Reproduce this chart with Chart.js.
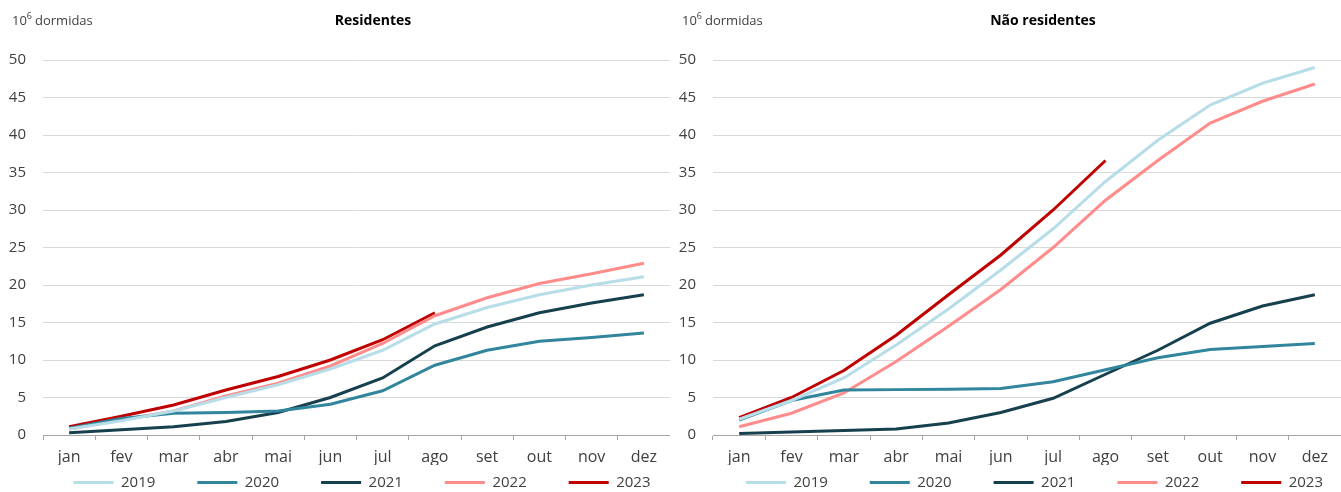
<!DOCTYPE html>
<html lang="pt">
<head>
<meta charset="UTF-8" />
<title>Dormidas acumuladas</title>
<style>
  body { margin: 0; background: #fff; }
  .wrap { display: flex; width: 1341px; height: 492px; }
  .box { position: relative; height: 492px; }
</style>
</head>
<body>
<div class="wrap">
  <div class="box" style="width:670px"><canvas id="residentes"></canvas></div>
  <div class="box" style="width:671px"><canvas id="naoResidentes"></canvas></div>
</div>
<script src="https://cdn.jsdelivr.net/npm/chart.js"></script>
<script>
const meses = ["jan", "fev", "mar", "abr", "mai", "jun", "jul", "ago", "set", "out", "nov", "dez"];
const anos = ["2019", "2020", "2021", "2022", "2023"];
const cores = ["#b7dde8", "#31859c", "#17404f", "#ff8b8b", "#c00000"];

// Residentes, milhões de dormidas acumuladas
const res2019 = [0.8, 1.9, 3.2, 5.0, 6.7, 8.8, 11.3, 14.8, 17.0, 18.7, 20.0, 21.1];
const res2020 = [0.9, 2.2, 2.9, 3.0, 3.2, 4.1, 5.9, 9.3, 11.3, 12.5, 13.0, 13.6];
const res2021 = [0.3, 0.7, 1.1, 1.8, 3.0, 5.0, 7.6, 11.9, 14.4, 16.3, 17.6, 18.7];
const res2022 = [0.8, 2.0, 3.2, 5.2, 6.9, 9.2, 12.2, 15.9, 18.3, 20.2, 21.5, 22.9];
const res2023 = [1.1, 2.5, 4.0, 6.0, 7.8, 10.0, 12.7, 16.3];

// Não residentes
const nres2019 = [2.1, 4.6, 7.6, 12.0, 16.8, 22.0, 27.5, 33.8, 39.3, 44.0, 46.9, 49.0];
const nres2020 = [2.0, 4.6, 6.0, 6.05, 6.1, 6.2, 7.1, 8.7, 10.3, 11.4, 11.8, 12.2];
const nres2021 = [0.2, 0.4, 0.6, 0.8, 1.6, 3.0, 4.9, 8.1, 11.3, 14.9, 17.2, 18.7];
const nres2022 = [1.1, 2.9, 5.6, 9.8, 14.5, 19.4, 25.0, 31.3, 36.6, 41.6, 44.5, 46.8];
const nres2023 = [2.3, 5.0, 8.6, 13.3, 18.7, 24.0, 30.0, 36.6];

const fonte = "'Open Sans', sans-serif";
const cinza = "#404040";

const cabecalho = {
  id: "cabecalho",
  afterLayout(chart, args, opts) {
    // leva a legenda para a posição do original
    const lg = chart.legend;
    const dy = opts.legendaY - (lg.top + lg.options.labels.padding);
    lg.left += opts.dx; lg.right += opts.dx;
    lg.top += dy; lg.bottom += dy;
  },
  afterDraw(chart, args, opts) {
    const ctx = chart.ctx;
    ctx.save();
    ctx.fillStyle = cinza;
    ctx.textBaseline = "alphabetic";
    ctx.textAlign = "left";
    ctx.font = "13px " + fonte;
    ctx.fillText("10", 12, 25);
    let w = ctx.measureText("10").width;
    ctx.font = "9px " + fonte;
    ctx.fillText("6", 12 + w, 19);
    w += ctx.measureText("6").width + 3;
    ctx.font = "13px " + fonte;
    ctx.fillText("dormidas", 12 + w, 25);
    ctx.fillStyle = "#000";
    ctx.textAlign = "center";
    ctx.font = "bold 14px " + fonte;
    ctx.fillText(opts.titulo, 373, 25);
    ctx.restore();
  }
};

function criar(id, titulo, series, dx) {
  return new Chart(document.getElementById(id), {
    type: "line",
    data: {
      labels: meses,
      datasets: anos.map((ano, i) => ({
        label: ano,
        data: series[i],
        borderColor: cores[i],
        backgroundColor: cores[i],
        borderWidth: 3,
        pointRadius: 0,
        tension: 0
      }))
    },
    options: {
      responsive: true,
      maintainAspectRatio: false,
      animation: false,
      layout: { padding: { top: 60, left: 0, right: 0, bottom: -40 } },
      scales: {
        x: {
          offset: true,
          afterFit: (s) => { s.height = 30; },
          grid: { offset: true, drawOnChartArea: false, tickLength: 5, color: "#a6a6a6" },
          border: { color: "#a6a6a6" },
          ticks: { color: cinza, font: { family: fonte, size: 16 }, padding: 8 }
        },
        y: {
          min: 0,
          max: 50,
          afterFit: (s) => { s.width = 43; },
          ticks: { stepSize: 5, color: cinza, font: { family: fonte, size: 15 }, padding: 17 },
          grid: { color: "#d9d9d9", drawTicks: false },
          border: { display: false }
        }
      },
      plugins: {
        cabecalho: { titulo: titulo, dx: dx, legendaY: 475 },
        tooltip: { enabled: false },
        legend: {
          position: "bottom",
          labels: {
            usePointStyle: true,
            pointStyle: "line",
            pointStyleWidth: 40,
            boxHeight: 15,
            padding: 42,
            color: cinza,
            font: { family: fonte, size: 15 }
          }
        }
      }
    },
    plugins: [cabecalho]
  });
}

criar("residentes", "Residentes", [res2019, res2020, res2021, res2022, res2023], 27);
criar("naoResidentes", "Não residentes", [nres2019, nres2020, nres2021, nres2022, nres2023], 29);
</script>
</body>
</html>
